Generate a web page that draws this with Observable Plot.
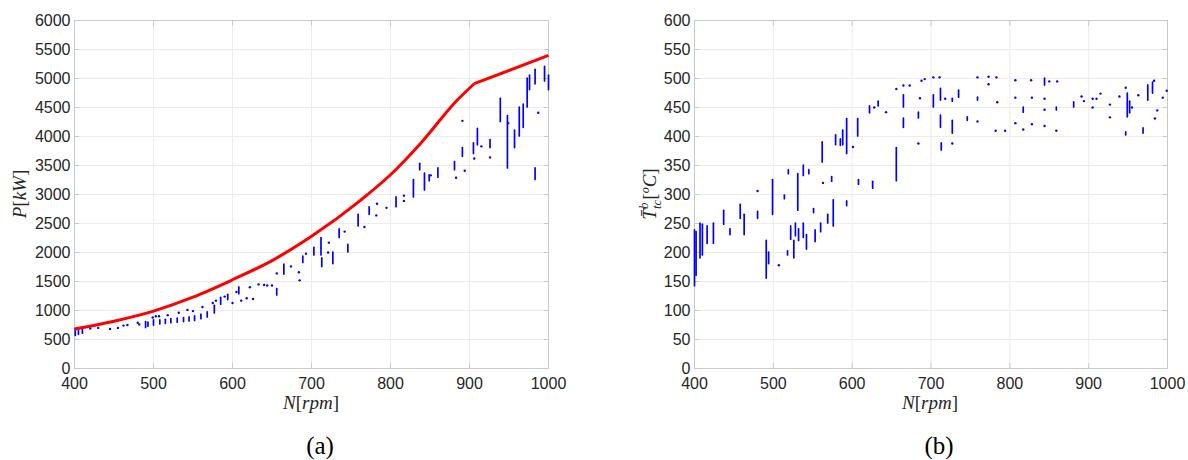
<!DOCTYPE html>
<html><head><meta charset="utf-8">
<script src="https://cdn.jsdelivr.net/npm/d3@7"></script>
<script src="https://cdn.jsdelivr.net/npm/@observablehq/plot@0.6"></script>
<style>
body{margin:0;background:#fff;}
#wrap{display:flex;width:1188px;height:460px;overflow:hidden;}
</style></head><body><div id="wrap"></div>
<script>
// ---- shared ticks ----
const xTicks = [400, 500, 600, 700, 800, 900, 1000];
const yTicksP = [0, 500, 1000, 1500, 2000, 2500, 3000, 3500, 4000, 4500, 5000, 5500, 6000];
const yTicksT = [0, 50, 100, 150, 200, 250, 300, 350, 400, 450, 500, 550, 600];

// ---- (a) power limit curve (smooth part, then straight segment after the kink) ----
const limitN = [400, 450, 500, 550, 600, 650, 700, 762, 800, 838, 884, 906];
const limitP = [680, 816, 990, 1230, 1530, 1860, 2280, 2900, 3340, 3880, 4620, 4910];
const limitTailN = [906, 1000];
const limitTailP = [4910, 5400];

// ---- (a) measured power: vertical streaks (N, Pmin, Pmax) ----
const pStreakN  = [401, 405, 410, 490, 493, 500, 508, 515, 522, 530, 538, 545, 552, 560, 568, 577, 585, 594, 608, 656, 665, 689, 703, 712, 713, 727, 735, 746, 759, 773, 807, 829, 837, 843, 849, 860, 881, 891, 905, 910, 926, 939, 948, 957, 963, 968, 973, 976, 983, 983, 995, 1000];
const pStreakLo = [560, 580, 600, 700, 720, 740, 760, 770, 780, 790, 800, 810, 820, 850, 880, 950, 1100, 1180, 1280, 1260, 1620, 1820, 1950, 1950, 1750, 1800, 2250, 2000, 2450, 2650, 2780, 2950, 3420, 3070, 3230, 3290, 3420, 3650, 3700, 3850, 3800, 4250, 3450, 3800, 4000, 4150, 4500, 4800, 4900, 3250, 4950, 4800];
const pStreakHi = [680, 660, 690, 800, 790, 830, 830, 840, 850, 860, 870, 880, 900, 930, 970, 1080, 1220, 1270, 1400, 1370, 1790, 1930, 2080, 2250, 1900, 2000, 2400, 2130, 2650, 2780, 2950, 3250, 3530, 3360, 3330, 3450, 3560, 3800, 3880, 4130, 3940, 4650, 4350, 4100, 4500, 4550, 5000, 5050, 5150, 3450, 5200, 5050];
// ---- (a) isolated points ----
const pDotN = [420, 430, 445, 455, 462, 467, 480, 482, 499, 503, 507, 518, 532, 543, 550, 562, 575, 579, 590, 600, 605, 611, 618, 622, 626, 633, 640, 644, 650, 656, 674, 684, 685, 693, 721, 722, 742, 767, 782, 783, 795, 817, 817, 851, 883, 891, 894, 906, 915, 926, 949, 987];
const pDotP = [690, 700, 680, 700, 740, 750, 790, 760, 880, 900, 900, 920, 960, 1010, 990, 1060, 1130, 1170, 1240, 1130, 1320, 1170, 1210, 1400, 1200, 1450, 1440, 1430, 1430, 1640, 1760, 1660, 1520, 1980, 2000, 2170, 2360, 2440, 2640, 2840, 2770, 2890, 2980, 3330, 3290, 4270, 3410, 3620, 3830, 3640, 4230, 4410];

// ---- (b) temperature: vertical streaks (N, Tmin, Tmax) ----
const tStreakN  = [400, 402, 407, 410, 416, 424, 437, 445, 458, 463, 480, 491, 494, 499, 514, 519, 518, 522, 526, 528, 531, 538, 545, 532, 538, 542, 551, 553, 560, 562, 569, 574, 576, 579, 585, 588, 593, 593, 607, 608, 626, 622, 633, 656, 665, 665, 684, 703, 712, 712, 713, 727, 727, 735, 746, 759, 817, 844, 859, 881, 949, 952, 947, 969, 975, 981];
const tStreakLo = [142, 160, 190, 195, 215, 215, 248, 230, 258, 230, 258, 155, 180, 265, 292, 335, 195, 222, 190, 228, 272, 332, 335, 220, 225, 205, 268, 218, 235, 355, 250, 322, 245, 385, 384, 385, 370, 280, 400, 317, 310, 440, 452, 323, 450, 415, 431, 450, 462, 415, 376, 460, 405, 467, 427, 462, 441, 488, 445, 450, 433, 440, 402, 405, 462, 474];
const tStreakHi = [238, 235, 250, 248, 245, 250, 272, 240, 282, 265, 270, 220, 200, 325, 298, 342, 202, 245, 220, 250, 335, 350, 342, 240, 250, 230, 275, 238, 250, 390, 265, 330, 290, 402, 395, 410, 430, 288, 430, 325, 322, 452, 460, 380, 471, 431, 441, 471, 482, 436, 388, 465, 427, 479, 433, 467, 450, 500, 450, 459, 474, 460, 407, 414, 488, 493];
// ---- (b) isolated points ----
const tDotN = [480, 507, 563, 601, 628, 643, 656, 665, 673, 684, 686, 688, 692, 703, 711, 718, 727, 759, 759, 773, 773, 783, 784, 782, 794, 807, 807, 807, 817, 827, 828, 828, 844, 844, 844, 850, 860, 859, 891, 894, 905, 905, 910, 915, 927, 927, 939, 947, 955, 963, 983, 984, 987, 994, 999];
const tDotT = [306, 178, 320, 382, 450, 442, 482, 488, 488, 388, 466, 496, 499, 502, 502, 465, 388, 502, 426, 503, 490, 502, 459, 410, 410, 497, 467, 423, 412, 497, 467, 421, 465, 446, 418, 495, 495, 410, 469, 461, 465, 450, 465, 474, 455, 433, 469, 484, 450, 471, 496, 431, 445, 467, 479];

const zip = (...a) => a[0].map((_, i) => a.map(c => c[i]));
const toStreaks = (n, lo, hi) => n.map((v, i) => ({n: v, lo: lo[i], hi: hi[i]}));
const toDots = (n, v) => n.map((x, i) => ({n: x, v: v[i]}));

const GRID = "#ececec", FRAME = "#c9c9c9", TXT = "#262626";
const SANS = "Liberation Sans, Arial, Helvetica, sans-serif";
const fmt = d => String(d);

function panel({width, marginLeft, marginRight, yDomain, yTicks, streaks, dots, lines}) {
  const marks = [
    Plot.gridX(xTicks, {stroke: GRID, strokeOpacity: 1}),
    Plot.gridY(yTicks, {stroke: GRID, strokeOpacity: 1}),
    Plot.axisX(xTicks, {anchor: "bottom", tickSize: -5, tickFormat: () => "", stroke: FRAME, label: null}),
    Plot.axisX(xTicks, {anchor: "top", tickSize: -5, tickFormat: () => "", stroke: FRAME, label: null}),
    Plot.axisY(yTicks, {anchor: "left", tickSize: -5, tickFormat: () => "", stroke: FRAME, label: null}),
    Plot.axisY(yTicks, {anchor: "right", tickSize: -5, tickFormat: () => "", stroke: FRAME, label: null}),
    Plot.frame({stroke: FRAME}),
    Plot.axisX(xTicks, {anchor: "bottom", tickSize: 0, tickPadding: 9, label: null, fill: TXT, tickFormat: fmt, fontSize: 16, fontFamily: SANS}),
    Plot.axisY(yTicks, {anchor: "left", tickSize: 0, tickPadding: 4, label: null, fill: TXT, tickFormat: fmt, fontSize: 16, fontFamily: SANS}),
    Plot.ruleX(streaks, {x: "n", y1: "lo", y2: "hi", stroke: "#0000ff", strokeWidth: 1.7, strokeLinecap: "round"}),
    Plot.dot(dots, {x: "n", y: "v", r: 1.2, fill: "#0000ff", stroke: "none"})
  ];
  for (const l of lines || []) {
    marks.push(Plot.line(l.data, {x: d => d[0], y: d => d[1], stroke: "#ff0000", strokeWidth: 3, curve: l.curve, strokeLinecap: "butt"}));
  }
  return Plot.plot({
    width, height: 460, marginLeft, marginRight, marginTop: 20, marginBottom: 92,
    style: {fontFamily: SANS, fontSize: "16px", color: TXT, background: "white", overflow: "visible"},
    x: {domain: [400, 1000], ticks: xTicks},
    y: {domain: yDomain, ticks: yTicks},
    marks
  });
}

const serif = "Liberation Serif, DejaVu Serif, serif";

function addLabels(svg, cx, caption, yLabelX, yLabelBuilder) {
  const s = d3.select(svg);
  const xl = s.append("text").attr("x", cx).attr("y", 409).attr("text-anchor", "middle")
    .attr("font-family", serif).attr("font-size", 19).attr("fill", TXT);
  xl.append("tspan").attr("font-style", "italic").text("N");
  xl.append("tspan").text("[");
  xl.append("tspan").attr("font-style", "italic").text("rpm");
  xl.append("tspan").text("]");
  s.append("text").attr("x", cx + 9).attr("y", 454).attr("text-anchor", "middle")
    .attr("font-family", serif).attr("font-size", 25).attr("fill", "#000").text(caption);
  const yl = s.append("text").attr("transform", `translate(${yLabelX},194) rotate(-90)`).attr("text-anchor", "middle")
    .attr("font-family", serif).attr("font-size", 19).attr("fill", TXT);
  yLabelBuilder(yl);
}

const wrap = document.getElementById("wrap");

const a = panel({
  width: 594, marginLeft: 74, marginRight: 46, yDomain: [0, 6000], yTicks: yTicksP,
  streaks: toStreaks(pStreakN, pStreakLo, pStreakHi), dots: toDots(pDotN, pDotP),
  lines: [
    {data: zip(limitN, limitP), curve: "monotone-x"},
    {data: zip(limitTailN, limitTailP), curve: "linear"}
  ]
});
wrap.appendChild(a);
addLabels(a, 311, "(a)", 26, t => {
  t.append("tspan").attr("font-style", "italic").text("P");
  t.append("tspan").text("[");
  t.append("tspan").attr("font-style", "italic").text("kW");
  t.append("tspan").text("]");
});

const b = panel({
  width: 594, marginLeft: 100, marginRight: 21, yDomain: [0, 600], yTicks: yTicksT,
  streaks: toStreaks(tStreakN, tStreakLo, tStreakHi), dots: toDots(tDotN, tDotT)
});
wrap.appendChild(b);
addLabels(b, 336, "(b)", 62, t => {
  t.append("tspan").attr("font-style", "italic").text("T\u0304");
  t.append("tspan").attr("font-style", "italic").attr("font-size", 13).attr("dy", -8).text("b");
  t.append("tspan").attr("font-style", "italic").attr("font-size", 13).attr("dx", -6.5).attr("dy", 13).text("tc");
  t.append("tspan").attr("dy", -5).text("[");
  t.append("tspan").attr("font-style", "italic").attr("font-size", 12).attr("dy", -7).text("o");
  t.append("tspan").attr("font-style", "italic").attr("dy", 7).text("C");
  t.append("tspan").text("]");
});
</script></body></html>
